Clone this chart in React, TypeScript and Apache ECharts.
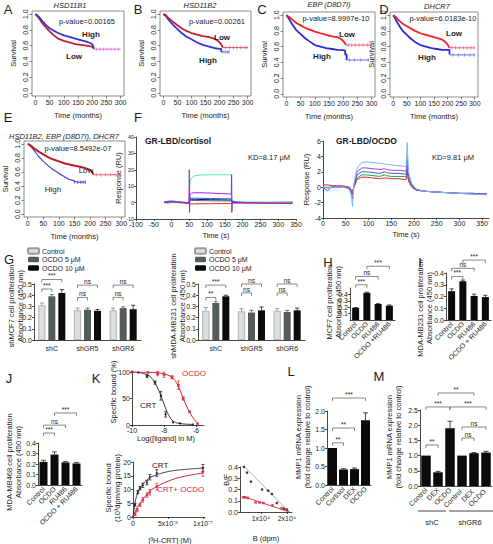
import React, { useEffect, useRef } from "react";
import * as echarts from "echarts";

const FONT = "'Liberation Sans', Arial, Helvetica, sans-serif";
const INK = "#1b1b1b";

// ---------- Kaplan-Meier curves (months, survival) ----------
const KM_XTICKS = [0, 50, 100, 150, 200, 250, 300];
const KM_YTICKS = [0, 0.2, 0.4, 0.6, 0.8, 1.0];

const A_highT = [0, 8, 16, 25, 35, 50, 65, 80, 100, 120, 140, 160, 180, 195, 202, 206];
const A_highS = [1.0, 0.98, 0.95, 0.91, 0.87, 0.82, 0.79, 0.76, 0.73, 0.71, 0.69, 0.67, 0.65, 0.63, 0.61, 0.56];
const A_lowT = [0, 8, 16, 25, 35, 50, 65, 80, 100, 120, 140, 160, 180, 195, 202, 206];
const A_lowS = [1.0, 0.97, 0.93, 0.88, 0.84, 0.78, 0.73, 0.69, 0.66, 0.64, 0.62, 0.61, 0.6, 0.59, 0.58, 0.56];
const A_tailT = [206, 300];
const A_tailS = [0.555, 0.555];
const A_cens = [215, 228, 240, 252, 266, 280, 292];

const B_highT = [0, 8, 16, 25, 35, 50, 65, 80, 100, 120, 140, 160, 180, 200, 206, 206];
const B_highS = [1.0, 0.98, 0.94, 0.9, 0.86, 0.81, 0.76, 0.72, 0.68, 0.64, 0.61, 0.59, 0.57, 0.56, 0.56, 0.52];
const B_hTailT = [206, 235];
const B_hTailS = [0.52, 0.52];
const B_hCens = [212, 220, 228, 234];
const B_lowT = [0, 8, 16, 25, 35, 50, 65, 80, 100, 120, 140, 160, 180, 195, 205, 212];
const B_lowS = [1.0, 0.99, 0.96, 0.93, 0.9, 0.86, 0.82, 0.79, 0.76, 0.74, 0.72, 0.71, 0.69, 0.66, 0.62, 0.575];
const B_tailT = [212, 300];
const B_tailS = [0.575, 0.575];
const B_cens = [222, 236, 250, 262, 276, 290, 298];

const C_lowT = [0, 8, 16, 25, 35, 50, 65, 80, 100, 120, 140, 160, 180, 195, 205, 210];
const C_lowS = [1.0, 0.98, 0.96, 0.93, 0.9, 0.87, 0.84, 0.82, 0.79, 0.77, 0.75, 0.73, 0.72, 0.69, 0.65, 0.62];
const C_tailT = [210, 300];
const C_tailS = [0.62, 0.62];
const C_cens = [218, 230, 242, 256, 270, 286, 298];
const C_highT = [0, 8, 16, 25, 35, 50, 65, 80, 100, 120, 140, 160, 180, 200, 207, 207, 212, 212];
const C_highS = [1.0, 0.96, 0.91, 0.86, 0.81, 0.76, 0.71, 0.67, 0.62, 0.6, 0.58, 0.57, 0.56, 0.555, 0.55, 0.5, 0.5, 0.43];
const C_hTailT = [212, 290];
const C_hTailS = [0.43, 0.43];
const C_hCens = [222, 240, 262, 288];

const D_lowT = [0, 8, 16, 25, 35, 50, 65, 80, 100, 120, 140, 160, 180, 195, 203, 207];
const D_lowS = [1.0, 0.98, 0.95, 0.92, 0.89, 0.86, 0.83, 0.8, 0.77, 0.75, 0.73, 0.71, 0.69, 0.65, 0.61, 0.585];
const D_tailT = [207, 300];
const D_tailS = [0.585, 0.585];
const D_cens = [216, 230, 244, 258, 272, 286, 298];
const D_highT = [0, 8, 16, 25, 35, 50, 65, 80, 100, 120, 140, 160, 180, 200, 207, 207];
const D_highS = [1.0, 0.95, 0.9, 0.85, 0.8, 0.75, 0.7, 0.66, 0.62, 0.6, 0.58, 0.57, 0.56, 0.56, 0.56, 0.5];
const D_hTailT = [207, 300];
const D_hTailS = [0.495, 0.495];
const D_hCens = [220, 240, 262, 282, 298];

const E_lowT = [0, 8, 16, 25, 35, 50, 65, 80, 100, 120, 140, 160, 180, 200, 207, 210];
const E_lowS = [1.0, 0.98, 0.95, 0.92, 0.89, 0.85, 0.81, 0.78, 0.75, 0.72, 0.7, 0.68, 0.66, 0.63, 0.6, 0.565];
const E_tailT = [210, 300];
const E_tailS = [0.56, 0.56];
const E_cens = [220, 235, 250, 265, 280, 295];
const E_highT = [0, 8, 16, 25, 35, 50, 65, 80, 100, 115, 130, 145, 155, 165, 185];
const E_highS = [1.0, 0.97, 0.93, 0.88, 0.82, 0.75, 0.69, 0.64, 0.58, 0.54, 0.5, 0.48, 0.46, 0.455, 0.455];
const E_hCens = [150, 160, 170, 178, 185];

// ---------- SPR sensorgrams ----------
const F1_t = [-20, -10, 0, 10, 20, 35, 49, 50, 50.5, 52, 56, 65, 80, 110, 140, 160, 168, 169, 169.5, 171, 176, 185, 210, 250, 300, 340];
const F1_green = [0.2, 0, 0.3, 0.5, 0.2, 0, 0, 4, 8, 12, 15, 16.3, 16.8, 17, 17, 17, 17, 17, 4, 1.5, 0.8, 0.6, 0.4, 0.3, 0.2, 0.1];
const F1_purple = [0, 0.2, 0.5, 0.5, 0.2, 0, 0, 20, -6, 5, 5.8, 6, 6, 5.8, 5.5, 5.3, 5.2, 17, -6, 1, 0.5, 0.3, 0, -0.2, -0.3, -0.3];
const F1_blue = [0.5, 0.8, 1, 0.8, 0.5, 0.2, 0, 1, 1.5, 2.5, 2.7, 2.7, 2.6, 2.5, 2.4, 2.3, 2.3, 2.2, 1, 0.4, 0.2, 0.1, 0, 0, 0, 0];
const F1_navy = [0.3, 0.5, 0.6, 0.5, 0.3, 0, 0, 0.8, 1, 1.8, 2, 2, 1.9, 1.8, 1.7, 1.6, 1.6, 1.5, 0.8, 0.3, 0.2, 0, 0, 0, 0.1, 0.2];
const F1_teal = [0, 0.2, 0.3, 0.2, 0, 0, 0, 0.5, 0.8, 1.2, 1.3, 1.3, 1.2, 1.1, 1, 1, 1, 1, 0.4, 0.2, 0.1, 0, 0, 0.1, 0.2, 0.2];
const F1_red = [0, -0.2, 0, 0.2, 0, -0.3, -0.5, -0.5, -0.6, -0.8, -0.8, -0.8, -0.7, -0.7, -0.6, -0.6, -0.6, -0.6, -0.4, -0.3, -0.3, -0.3, -0.3, -0.4, -0.5, -0.6];

const F2_t = [0, 10, 20, 30, 40, 50, 58, 62, 65, 68, 75, 85, 95, 110, 125, 135, 140, 150, 165, 180, 183, 185, 188, 195, 205, 220, 240, 270, 300, 330, 360];
const F2_lblue = [0, -0.1, 0, 0, 0, -0.1, -0.3, -1, -2.5, 0.5, 2.5, 3.2, 3.3, 3.2, 3.1, 3.0, 3.0, 2.9, 2.8, 2.7, 2.7, 5.8, 2, 0.5, -0.2, -0.5, -0.6, -0.7, -0.8, -0.9, -1];
const F2_purple = [0, -0.1, 0, 0, 0, 0, -0.2, -0.8, -1.5, 0.3, 2, 2.5, 2.5, 2.4, 2.3, 2.4, 2.3, 2.2, 2.2, 2.1, 2.1, 4, 1.5, 0.3, -0.3, -0.5, -0.6, -0.7, -0.8, -0.9, -0.9];
const F2_blue = [0, -0.5, 0.1, 0, 0, 0, -0.1, -0.5, -1.0, 0.2, 1.6, 2.0, 2.0, 1.9, 1.8, 2.0, 1.9, 1.8, 1.8, 1.7, 1.7, 3, 1.2, 0.2, -0.3, -0.5, -0.6, -0.7, -0.8, -0.8, -0.9];
const F2_green = [0, 0, 0, 0, 0, 0, -0.1, -0.4, -0.8, 0.1, 1.2, 1.6, 1.6, 1.5, 1.4, 1.6, 1.5, 1.4, 1.4, 1.4, 1.4, 2.5, 1, 0.1, -0.3, -0.5, -0.6, -0.7, -0.8, -0.8, -0.9];
const F2_red = [0.3, 0.3, 0.2, 0.2, 0.2, 0.1, 0, -0.3, -0.5, 0, 1.0, 1.3, 1.3, 1.2, 1.1, 1.2, 1.2, 1.1, 1.1, 1.0, 1.0, 2, 0.8, 0, -0.4, -0.5, -0.6, -0.7, -0.8, -0.8, -0.9];

// ---------- G: proliferation (shC, shGR5, shGR6) ----------
const G_cats = ["shC", "shGR5", "shGR6"];
const G_names = ["Control", "OCDO 5 μM", "OCDO 10 μM"];
const G1_ctrl = [0.31, 0.265, 0.265];
const G1_ctrlE = [0.02, 0.02, 0.02];
const G1_o5 = [0.39, 0.27, 0.285];
const G1_o5E = [0.015, 0.015, 0.012];
const G1_o10 = [0.42, 0.26, 0.275];
const G1_o10E = [0.03, 0.012, 0.035];
const G2_ctrl = [0.26, 0.255, 0.26];
const G2_ctrlE = [0.03, 0.025, 0.02];
const G2_o5 = [0.33, 0.245, 0.25];
const G2_o5E = [0.012, 0.02, 0.015];
const G2_o10 = [0.39, 0.265, 0.265];
const G2_o10E = [0.01, 0.03, 0.02];

// ---------- H, I, J ----------
const HIJ_catsH = ["Control", "OCDO", "RU486", "OCDO +RU486"];
const HIJ_cats = ["Control", "OCDO", "RU486", "OCDO + RU486"];
const H_vals = [0.19, 0.425, 0.25, 0.225];
const H_errs = [0.005, 0.01, 0.005, 0.01];
const I_vals = [0.245, 0.33, 0.205, 0.195];
const I_errs = [0.02, 0.01, 0.015, 0.015];
const J_vals = [0.22, 0.29, 0.215, 0.205];
const J_errs = [0.015, 0.025, 0.008, 0.01];

// ---------- K: binding ----------
const KT_crtX = [-10, -9.6, -9.06, -8.56, -8.2, -7.9, -7.44, -7.0, -6.2];
const KT_crtY = [100, 99, 92, 80, 55, 20, 5, 3, 1];
const KT_crtE = [0, 0, 2, 3, 8, 5, 0, 0, 0];
const KT_ocdoX = [-10, -9.0, -8.4, -8.0, -7.5, -7.1, -6.8, -6.4, -5.9];
const KT_ocdoY = [100, 99, 97, 95, 90, 75, 50, 25, 2];
const KT_ocdoE = [0, 0, 4, 5, 3, 8, 3, 0, 0];
const KT_crtFitX = [-10, -9.5, -9.0, -8.7, -8.4, -8.2, -8.0, -7.8, -7.5, -7.2, -6.8, -6.2];
const KT_crtFitY = [100, 99, 94, 86, 70, 56, 40, 24, 9, 4, 2, 1];
const KT_ocdoFitX = [-10, -9, -8.4, -8.0, -7.6, -7.3, -7.0, -6.8, -6.5, -6.2, -5.9];
const KT_ocdoFitY = [100, 99.5, 98.5, 96.5, 92, 84, 66, 50, 30, 14, 3];

const KB_crtX = [0, 3e-9, 7e-9, 1e-8, 1.4e-8, 2e-8, 2.4e-8, 3.4e-8, 1e-7];
const KB_crtY = [0, 4.5, 9, 10.5, 11.5, 12.5, 14.5, 16, 17.8];
const KB_crtE = [0, 0.5, 0.6, 0.6, 0.8, 0.8, 1, 1.2, 1.3];
const KB_crtFitX = [0, 2e-9, 5e-9, 1e-8, 2e-8, 3e-8, 5e-8, 7e-8, 1e-7];
const KB_crtFitY = [0, 3.5, 7.5, 10.5, 13.5, 15, 16.5, 17.2, 17.8];
const KB_mixX = [0, 3e-9, 6e-9, 1e-8, 1.4e-8, 2e-8, 2.4e-8, 3.4e-8, 1e-7];
const KB_mixY = [0, 1, 2.5, 4.4, 6.2, 8, 9, 11, 16.4];
const KB_mixE = [0, 0.5, 0.6, 0.6, 0.8, 0.8, 1, 1.2, 1.6];
const KB_mixFitX = [0, 2e-9, 5e-9, 1e-8, 2e-8, 3e-8, 5e-8, 7e-8, 1e-7];
const KB_mixFitY = [0, 1.2, 3, 5, 8.2, 10.5, 13, 14.6, 16];

const SC_blackB = [3500, 4700, 6200, 10500, 12800, 14300, 16200, 18900, 20000];
const SC_blackBF = [0.4, 0.35, 0.27, 0.2, 0.19, 0.16, 0.08, 0.03, 0.02];
const SC_redB = [3200, 4000, 5000, 8000, 9500, 11000, 14500, 18000, 20000];
const SC_redBF = [0.13, 0.13, 0.125, 0.085, 0.085, 0.08, 0.06, 0.035, 0.02];
const SC_blackFitB = [3000, 21000];
const SC_blackFitBF = [0.42, 0.0];
const SC_redFitB = [3000, 21000];
const SC_redFitBF = [0.14, 0.0];

// ---------- L, M: MMP1 expression ----------
const L_cats = ["Control", "Cortisol", "DEX", "OCDO"];
const L_vals = [1.0, 0.42, 0.43, 1.75];
const L_errs = [0, 0.02, 0.03, 0.2];
const M_cats = ["Control", "DEX", "OCDO", "Control ", "DEX ", "OCDO "];
const M_vals = [1.0, 0.45, 1.9, 1.0, 1.08, 1.1];
const M_errs = [0, 0.03, 0.23, 0, 0.02, 0.04];

type R = { l: number; t: number; w: number; h: number };
type Br = [number, number, number, number, number, string];

function zip(a: number[], b: number[]) {
  return a.map((v, i) => [v, b[i]]);
}

function buildOption() {
  const grid: any[] = [];
  const xAxis: any[] = [];
  const yAxis: any[] = [];
  const series: any[] = [];
  const graphic: any[] = [];

  const lbl = (size = 7, extra: any = {}) => ({ fontSize: size, fontFamily: FONT, color: INK, ...extra });
  const nameStyle = (size = 7.5) => ({ fontSize: size, fontFamily: FONT, color: INK });

  function addGrid(r: R, xa: any, ya: any, box = false) {
    const gi = grid.length;
    grid.push({
      left: r.l, top: r.t, width: r.w, height: r.h, show: box,
      borderColor: "#707070", borderWidth: box ? 0.8 : 0, backgroundColor: "transparent",
    });
    xAxis.push({ gridIndex: gi, splitLine: { show: false }, ...xa, axisLine: { onZero: false, ...(xa.axisLine || {}) } });
    yAxis.push({ gridIndex: gi, splitLine: { show: false }, ...ya, axisLine: { onZero: false, ...(ya.axisLine || {}) } });
    return gi;
  }

  function text(t: string, x: number, y: number, o: any = {}) {
    const align = o.align || "center";
    const va = o.va || "middle";
    graphic.push({
      type: "text", x, y, rotation: o.rot || 0, silent: true, z: 50,
      style: {
        text: t, fill: o.color || INK, fontFamily: FONT, fontSize: o.size || 7.5,
        fontStyle: o.italic ? "italic" : "normal", fontWeight: o.bold ? "bold" : "normal",
        align, textAlign: align, verticalAlign: va, textVerticalAlign: va,
        lineHeight: o.lh || undefined,
      },
    });
  }

  const line = (gi: number, data: any[], color: string, width = 1, extra: any = {}) =>
    series.push({
      type: "line", xAxisIndex: gi, yAxisIndex: gi, data, showSymbol: false, symbol: "none",
      lineStyle: { color, width }, silent: true, animation: false, ...extra,
    });

  // ---------- KM panels ----------
  function km(r: R, curves: { d: any[]; c: string; w?: number }[], cens: { t: number[]; y: number; c: string }[]) {
    const tick = { show: true, length: 2.5, lineStyle: { color: "#555", width: 0.7 } };
    const gi = addGrid(
      r,
      {
        type: "value", min: -12, max: 312, axisLine: { show: false },
        axisTick: { ...tick, customValues: KM_XTICKS },
        axisLabel: { ...lbl(7), margin: 3, customValues: KM_XTICKS },
        name: "Time (months)", nameLocation: "middle", nameGap: 15, nameTextStyle: nameStyle(7.5),
      },
      {
        type: "value", min: -0.04, max: 1.04, axisLine: { show: false },
        axisTick: { ...tick, customValues: KM_YTICKS },
        axisLabel: { ...lbl(7), margin: 3, rotate: 90, customValues: KM_YTICKS, formatter: (v: number) => v.toFixed(1) },
        name: "Survival", nameLocation: "middle", nameGap: 15, nameTextStyle: nameStyle(7.5),
      },
      true
    );
    curves.forEach((c) => line(gi, c.d, c.c, c.w ?? 1.8));
    cens.forEach((c) =>
      series.push({
        type: "scatter", xAxisIndex: gi, yAxisIndex: gi, data: c.t.map((t) => [t, c.y]),
        symbol: "rect", symbolSize: [0.8, 3.5], itemStyle: { color: c.c }, silent: true,
      })
    );
    return gi;
  }

  const RED1 = "#bf2230";
  const BLUE1 = "#3535d2";
  const RED2 = "#ee2228";
  const BLUE2 = "#2a2ad6";
  const PINK = "#d672d8";
  const LBLUE = "#6a6af0";

  km({ l: 32, t: 11, w: 92, h: 85 },
    [{ d: zip(A_lowT, A_lowS), c: RED1 }, { d: zip(A_highT, A_highS), c: BLUE1 }, { d: zip(A_tailT, A_tailS), c: PINK, w: 1 }],
    [{ t: A_cens, y: 0.555, c: PINK }]);
  km({ l: 160, t: 11, w: 91, h: 85 },
    [{ d: zip(B_highT, B_highS), c: BLUE1 }, { d: zip(B_lowT, B_lowS), c: RED1 }, { d: zip(B_tailT, B_tailS), c: "#e0506a", w: 1 }, { d: zip(B_hTailT, B_hTailS), c: LBLUE, w: 1 }],
    [{ t: B_cens, y: 0.575, c: "#e0506a" }, { t: B_hCens, y: 0.52, c: LBLUE }]);
  km({ l: 283, t: 12, w: 92, h: 85 },
    [{ d: zip(C_highT, C_highS), c: BLUE2 }, { d: zip(C_lowT, C_lowS), c: RED2 }, { d: zip(C_tailT, C_tailS), c: "#f05a78", w: 1 }, { d: zip(C_hTailT, C_hTailS), c: LBLUE, w: 1 }],
    [{ t: C_cens, y: 0.62, c: "#f05a78" }, { t: C_hCens, y: 0.43, c: LBLUE }]);
  km({ l: 390, t: 12, w: 88, h: 85 },
    [{ d: zip(D_highT, D_highS), c: BLUE2 }, { d: zip(D_lowT, D_lowS), c: RED2 }, { d: zip(D_tailT, D_tailS), c: "#f05a78", w: 1 }, { d: zip(D_hTailT, D_hTailS), c: LBLUE, w: 1 }],
    [{ t: D_cens, y: 0.585, c: "#f05a78" }, { t: D_hCens, y: 0.495, c: LBLUE }]);
  km({ l: 21, t: 141, w: 104, h: 76 },
    [{ d: zip(E_highT, E_highS), c: "#4444d8", w: 1.2 }, { d: zip(E_lowT, E_lowS), c: "#b81c24", w: 2 }, { d: zip(E_tailT, E_tailS), c: "#e05a78", w: 1 }],
    [{ t: E_cens, y: 0.56, c: "#e05a78" }, { t: E_hCens, y: 0.455, c: "#4444d8" }]);

  // KM annotations
  text("HSD11B1", 70, 5, { italic: true, size: 7.5 });
  text("HSD11B2", 200, 5, { italic: true, size: 7.5 });
  text("EBP (D8D7I)", 329, 4, { italic: true, size: 7.5 });
  text("DHCR7", 437, 6, { italic: true, size: 7.5 });
  text("HSD11B2, EBP (D8D7I), DHCR7", 64, 136, { italic: true, size: 7.5 });
  text("p-value=0.00165", 87, 21, { size: 7.5 });
  text("p-value=0.00261", 217, 21, { size: 7.5 });
  text("p-value=8.9997e-10", 336, 18, { size: 7.5 });
  text("p-value=6.0183e-10", 443, 18, { size: 7.5 });
  text("p-value=8.5492e-07", 78, 148, { size: 7.5 });
  text("High", 91, 34, { bold: true, size: 8 });
  text("Low", 74, 56, { bold: true, size: 8 });
  text("Low", 222, 37, { bold: true, size: 8 });
  text("High", 208, 60, { bold: true, size: 8 });
  text("Low", 347, 34, { bold: true, size: 8 });
  text("High", 322, 56, { bold: true, size: 8 });
  text("Low", 454, 33, { bold: true, size: 8 });
  text("High", 427, 57, { bold: true, size: 8 });
  text("Low", 86, 170, { size: 8 });
  text("High", 53, 189, { size: 8 });

  // ---------- F: SPR ----------
  const sprAxes = (xmin: number, xmax: number, ymin: number, ymax: number, yint: number, ySize: number, xCustom: number[]) => [
    {
      type: "value", min: xmin, max: xmax,
      axisLine: { show: true, lineStyle: { color: INK, width: 0.8 } },
      axisTick: { show: true, length: 2, lineStyle: { color: INK, width: 0.7 }, customValues: xCustom },
      axisLabel: { ...lbl(7), margin: 2, customValues: xCustom },
      name: "Time (s)", nameLocation: "middle", nameGap: 12, nameTextStyle: nameStyle(7.5),
    },
    {
      type: "value", min: ymin, max: ymax, interval: yint,
      axisLine: { show: true, lineStyle: { color: INK, width: 0.8 } },
      axisTick: { show: true, length: 2, lineStyle: { color: INK, width: 0.7 } },
      axisLabel: { ...lbl(ySize), margin: 2 },
      name: "Response (RU)", nameLocation: "middle", nameGap: 9, nameTextStyle: nameStyle(7.5),
    },
  ];
  const f1ax = sprAxes(-100, 350, -10, 40, 10, 5.5, [-100, -50, 0, 50, 100, 150, 200, 250, 300, 350]);
  const gF1 = addGrid({ l: 136, t: 137, w: 160, h: 82 }, f1ax[0], f1ax[1]);
  line(gF1, zip(F1_t, F1_red), "#e02424", 1);
  line(gF1, zip(F1_t, F1_teal), "#2a8060", 1);
  line(gF1, zip(F1_t, F1_navy), "#1c1c80", 1);
  line(gF1, zip(F1_t, F1_blue), "#3a55d0", 1);
  line(gF1, zip(F1_t, F1_green), "#5ee8a4", 1);
  line(gF1, zip(F1_t, F1_purple), "#a020ec", 1);

  const f2ax = sprAxes(0, 365, -4, 6, 2, 7, [0, 50, 100, 150, 200, 250, 300, 350]);
  const gF2 = addGrid({ l: 323, t: 141, w: 166, h: 77 }, f2ax[0], f2ax[1]);
  line(gF2, zip(F2_t, F2_red), "#e02828", 1);
  line(gF2, zip(F2_t, F2_green), "#30a048", 1);
  line(gF2, zip(F2_t, F2_blue), "#3860d8", 1);
  line(gF2, zip(F2_t, F2_purple), "#b040e0", 1);
  line(gF2, zip(F2_t, F2_lblue), "#72bcf2", 1);

  text("GR-LBD/cortisol", 145, 141, { bold: true, size: 8.5, align: "left" });
  text("KD=8.17 μM", 248, 157, { size: 7.5, align: "left" });
  text("GR-LBD/OCDO", 336, 141, { bold: true, size: 8.5, align: "left" });
  text("KD=9.81 μM", 432, 157, { size: 7.5, align: "left" });

  // ---------- bar panels ----------
  function bars(o: {
    r: R; cats: string[]; sers: { name: string; v: number[]; e: number[]; color: string; border?: string; ecolor?: string }[];
    max: number; step: number; dec: number; rot: number; bw: number; gap: number; br: Br[]; catMargin?: number;
  }) {
    const gi = addGrid(
      o.r,
      {
        type: "category", data: o.cats,
        axisLine: { show: true, lineStyle: { color: INK, width: 0.8 } },
        axisTick: { show: false },
        axisLabel: { ...lbl(7), interval: 0, rotate: o.rot, margin: o.catMargin ?? 3 },
      },
      {
        type: "value", min: 0, max: o.max, interval: o.step,
        axisLine: { show: true, lineStyle: { color: INK, width: 0.8 } },
        axisTick: { show: true, length: 2, lineStyle: { color: INK, width: 0.8 } },
        axisLabel: { ...lbl(7), margin: 2, formatter: (v: number) => v.toFixed(o.dec) },
      }
    );
    const n = o.sers.length;
    const offs = o.sers.map((_, i) => (i - (n - 1) / 2) * (o.bw + o.gap));
    o.sers.forEach((s) =>
      series.push({
        type: "bar", name: s.name, xAxisIndex: gi, yAxisIndex: gi, data: s.v, barWidth: o.bw,
        barGap: `${(o.gap / o.bw) * 100}%`, silent: true,
        itemStyle: { color: s.color, borderColor: s.border || s.color, borderWidth: s.border ? 0.7 : 0 },
      })
    );
    const ed: number[][] = [];
    o.sers.forEach((s, si) => s.v.forEach((v, ci) => { if (s.e[ci] > 0) ed.push([ci, v, s.e[ci], si]); }));
    const ecol = o.sers.map((s) => s.ecolor || INK);
    series.push({
      type: "custom", xAxisIndex: gi, yAxisIndex: gi, silent: true, clip: false, z: 3,
      encode: { x: 0, y: 1 }, data: ed,
      renderItem: (_p: any, api: any) => {
        const ci = api.value(0), v = api.value(1), e = api.value(2), si = api.value(3);
        const a = api.coord([ci, v]);
        const b = api.coord([ci, v + e]);
        const x = a[0] + offs[si];
        const cap = Math.min(o.bw * 0.3, 2.5);
        const st = { stroke: ecol[si], lineWidth: 0.8 };
        return {
          type: "group",
          children: [
            { type: "line", shape: { x1: x, y1: a[1], x2: x, y2: b[1] }, style: st },
            { type: "line", shape: { x1: x - cap, y1: b[1], x2: x + cap, y2: b[1] }, style: st },
          ],
        };
      },
    });
    series.push({
      type: "custom", xAxisIndex: gi, yAxisIndex: gi, silent: true, clip: false, z: 4,
      encode: { x: 0, y: 4 }, data: o.br.map((b) => [b[0], b[1], b[2], b[3], b[4]]),
      renderItem: (p: any, api: any) => {
        const b = o.br[p.dataIndex];
        const p1 = api.coord([b[0], b[4]]);
        const p2 = api.coord([b[2], b[4]]);
        const x1 = p1[0] + offs[b[1]];
        const x2 = p2[0] + offs[b[3]];
        const y = p1[1];
        return {
          type: "group",
          children: [
            { type: "polyline", shape: { points: [[x1, y + 3], [x1, y], [x2, y], [x2, y + 3]] }, style: { stroke: "#555", lineWidth: 0.7, fill: null } },
            {
              type: "text", x: (x1 + x2) / 2, y: y - 0.3,
              style: { text: b[5], fontSize: 6.5, fontFamily: FONT, fill: INK, align: "center", textAlign: "center", verticalAlign: "bottom", textVerticalAlign: "bottom" },
            },
          ],
        };
      },
    });
    return gi;
  }

  const GCOL = [
    { color: "#dcdfdf", border: "#9a9a9a", ecolor: "#888" },
    { color: "#555c5c", ecolor: "#555" },
    { color: "#0b0b0b" },
  ];
  const mkG = (vals: number[][], errs: number[][]) => G_names.map((nm, i) => ({ name: nm, v: vals[i], e: errs[i], ...GCOL[i] }));

  bars({
    r: { l: 34, t: 284, w: 107, h: 56 }, cats: G_cats, sers: mkG([G1_ctrl, G1_o5, G1_o10], [G1_ctrlE, G1_o5E, G1_o10E]),
    max: 0.5, step: 0.1, dec: 1, rot: 0, bw: 7, gap: 3, catMargin: 5,
    br: [[0, 0, 0, 1, 0.455, "***"], [0, 0, 0, 2, 0.54, "***"], [1, 0, 1, 1, 0.38, "ns"], [1, 0, 1, 2, 0.49, "ns"], [2, 0, 2, 1, 0.38, "ns"], [2, 0, 2, 2, 0.49, "ns"]],
  });
  bars({
    r: { l: 198, t: 284, w: 107, h: 56 }, cats: G_cats, sers: mkG([G2_ctrl, G2_o5, G2_o10], [G2_ctrlE, G2_o5E, G2_o10E]),
    max: 0.5, step: 0.1, dec: 1, rot: 0, bw: 7, gap: 3, catMargin: 5,
    br: [[0, 0, 0, 1, 0.38, "**"], [0, 0, 0, 2, 0.49, "***"], [1, 0, 1, 1, 0.42, "ns"], [1, 0, 1, 2, 0.5, "ns"], [2, 0, 2, 1, 0.42, "ns"], [2, 0, 2, 2, 0.5, "ns"]],
  });

  const blk = (nm: string, v: number[], e: number[]) => [{ name: nm, v, e, color: "#0b0b0b" }];
  bars({
    r: { l: 350, t: 288, w: 45, h: 32 }, cats: HIJ_catsH, sers: blk("H", H_vals, H_errs),
    max: 0.5, step: 0.1, dec: 1, rot: 45, bw: 7, gap: 0,
    br: [[0, 0, 1, 0, 0.55, "***"], [0, 0, 2, 0, 0.68, "ns"], [1, 0, 3, 0, 0.84, "***"]],
  });
  bars({
    r: { l: 446, t: 273, w: 45, h: 47 }, cats: HIJ_cats, sers: blk("I", I_vals, I_errs),
    max: 0.4, step: 0.1, dec: 1, rot: 45, bw: 7, gap: 0,
    br: [[0, 0, 1, 0, 0.37, "***"], [0, 0, 2, 0, 0.44, "ns"], [1, 0, 3, 0, 0.51, "***"]],
  });
  bars({
    r: { l: 38, t: 443, w: 44, h: 42 }, cats: HIJ_cats, sers: blk("J", J_vals, J_errs),
    max: 0.4, step: 0.1, dec: 1, rot: 45, bw: 8, gap: 0,
    br: [[0, 0, 1, 0, 0.495, "***"], [0, 0, 2, 0, 0.57, "ns"], [1, 0, 3, 0, 0.686, "***"]],
  });
  bars({
    r: { l: 327, t: 411, w: 44, h: 74 }, cats: L_cats, sers: blk("L", L_vals, L_errs),
    max: 2.0, step: 0.5, dec: 1, rot: 45, bw: 9, gap: 0,
    br: [[0, 0, 1, 0, 1.14, "**"], [0, 0, 2, 0, 1.54, "**"], [0, 0, 3, 0, 2.35, "***"]],
  });
  bars({
    r: { l: 420, t: 410, w: 72, h: 76 }, cats: M_cats, sers: blk("M", M_vals, M_errs),
    max: 2.5, step: 0.5, dec: 1, rot: 45, bw: 9.5, gap: 0,
    br: [[0, 0, 1, 0, 1.35, "**"], [0, 0, 2, 0, 2.6, "***"], [2, 0, 5, 0, 2.6, "***"], [3, 0, 4, 0, 1.58, "ns"], [3, 0, 5, 0, 1.94, "ns"], [1, 0, 4, 0, 3.06, "**"]],
  });

  // bar y-axis titles
  text("shMCF7 cell proliferation\nAbsorbance (450 nm)", 16, 306, { rot: Math.PI / 2, lh: 8.5 });
  text("shMDA-MB231 cell proliferation\nAbsorbance (450 nm)", 178, 306, { rot: Math.PI / 2, lh: 8.5 });
  text("MCF7 cell proliferation\nAbsorbance (450 nm)", 334, 302, { rot: Math.PI / 2, lh: 8.5 });
  text("MDA-MB231 cell proliferation\nAbsorbance (450 nm)", 425, 308, { rot: Math.PI / 2, lh: 8.5 });
  text("MDA-MB468 cell proliferation\nAbsorbance (450 nm)", 14, 462, { rot: Math.PI / 2, lh: 8.5 });
  text("MMP1 mRNA expression\n(fold change relative to control)", 303, 437, { rot: Math.PI / 2, lh: 8.5 });
  text("MMP1 mRNA expression\n(fold change relative to control)", 394, 437, { rot: Math.PI / 2, lh: 8.5 });

  // M group labels
  graphic.push({ type: "line", shape: { x1: 418, y1: 511, x2: 446, y2: 511 }, style: { stroke: INK, lineWidth: 0.8 }, silent: true });
  graphic.push({ type: "line", shape: { x1: 449, y1: 511, x2: 493, y2: 511 }, style: { stroke: INK, lineWidth: 0.8 }, silent: true });
  text("shC", 432, 522, { size: 7.5 });
  text("shGR6", 470, 522, { size: 7.5 });

  // ---------- K ----------
  const RK = "#d02a3a";
  const axl = { show: true, lineStyle: { color: INK, width: 0.8 } };
  const axt = { show: true, length: 2, lineStyle: { color: INK, width: 0.8 } };
  const gKT = addGrid(
    { l: 132, t: 372, w: 72, h: 53 },
    { type: "value", min: -10, max: -5.5, axisLine: axl, axisTick: { ...axt, customValues: [-10, -8, -6] }, axisLabel: { ...lbl(7), margin: 2, customValues: [-10, -8, -6] } },
    { type: "value", min: 0, max: 100, interval: 50, axisLine: axl, axisTick: axt, axisLabel: { ...lbl(7), margin: 2 } }
  );
  line(gKT, zip(KT_crtFitX, KT_crtFitY), "#222", 0.9, { smooth: 0.3 });
  line(gKT, zip(KT_ocdoFitX, KT_ocdoFitY), RK, 1, { smooth: 0.3 });

  function pts(gi: number, xs: number[], ys: number[], es: number[], color: string, size = 2.6, sym = "circle") {
    series.push({
      type: "scatter", xAxisIndex: gi, yAxisIndex: gi, data: zip(xs, ys), symbol: sym, symbolSize: size,
      itemStyle: { color }, silent: true, z: 5,
    });
    series.push({
      type: "custom", xAxisIndex: gi, yAxisIndex: gi, silent: true, clip: false, z: 4,
      encode: { x: 0, y: 1 }, data: xs.map((x, i) => [x, ys[i], es[i]]).filter((d) => d[2] > 0),
      renderItem: (_p: any, api: any) => {
        const x = api.value(0), y = api.value(1), e = api.value(2);
        const a = api.coord([x, y - e]);
        const b = api.coord([x, y + e]);
        const st = { stroke: color, lineWidth: 0.7 };
        return {
          type: "group",
          children: [
            { type: "line", shape: { x1: a[0], y1: a[1], x2: b[0], y2: b[1] }, style: st },
            { type: "line", shape: { x1: a[0] - 1.5, y1: a[1], x2: a[0] + 1.5, y2: a[1] }, style: st },
            { type: "line", shape: { x1: b[0] - 1.5, y1: b[1], x2: b[0] + 1.5, y2: b[1] }, style: st },
          ],
        };
      },
    });
  }
  pts(gKT, KT_crtX, KT_crtY, KT_crtE, "#111", 2.4, "circle");
  pts(gKT, KT_ocdoX, KT_ocdoY, KT_ocdoE, RK, 2.8, "rect");

  const kbl = (v: number) => (v < 1e-9 ? "0" : v < 7e-8 ? "5x10⁻⁸" : "1x10⁻⁷");
  const gKB = addGrid(
    { l: 133, t: 462, w: 72, h: 55 },
    { type: "value", min: 0, max: 1.03e-7, axisLine: axl, axisTick: { ...axt, customValues: [0, 5e-8, 1e-7] }, axisLabel: { ...lbl(7), margin: 3, customValues: [0, 5e-8, 1e-7], formatter: kbl } },
    { type: "value", min: 0, max: 20, interval: 5, axisLine: axl, axisTick: axt, axisLabel: { ...lbl(7), margin: 2 } }
  );
  line(gKB, zip(KB_crtFitX, KB_crtFitY), "#333", 0.9, { smooth: 0.4 });
  line(gKB, zip(KB_mixFitX, KB_mixFitY), RK, 1, { smooth: 0.4 });
  pts(gKB, KB_crtX, KB_crtY, KB_crtE, "#111", 2.2, "circle");
  pts(gKB, KB_mixX, KB_mixY, KB_mixE, RK, 2.4, "rect");

  const sbl = (v: number) => (v < 15000 ? "1x10⁴" : "2x10⁴");
  const gSC = addGrid(
    { l: 240, t: 467, w: 52, h: 45 },
    { type: "value", min: 2000, max: 22000, axisLine: axl, axisTick: { ...axt, customValues: [10000, 20000] }, axisLabel: { ...lbl(7), margin: 3, customValues: [10000, 20000], formatter: sbl } },
    { type: "value", min: 0, max: 0.4, interval: 0.1, axisLine: axl, axisTick: axt, axisLabel: { ...lbl(7), margin: 2, formatter: (v: number) => v.toFixed(1) } }
  );
  line(gSC, zip(SC_blackFitB, SC_blackFitBF), "#999", 0.8);
  line(gSC, zip(SC_redFitB, SC_redFitBF), RK, 0.9);
  pts(gSC, SC_blackB, SC_blackBF, SC_blackB.map(() => 0), "#111", 2.6, "circle");
  pts(gSC, SC_redB, SC_redBF, SC_redB.map(() => 0), RK, 2.6, "rect");

  text("Specific bound (%)", 113, 392, { rot: Math.PI / 2 });
  text("Log([ligand] in M)", 166, 438);
  text("OCDO", 182, 373, { color: RK, size: 8, align: "left" });
  text("CRT", 140, 405, { size: 8, align: "left" });
  text("Specific bound\n(10³dpm/mg protein)", 113, 488, { rot: Math.PI / 2, lh: 8.5 });
  text("[³H-CRT] (M)", 170, 540);
  text("CRT", 152, 465, { size: 8, align: "left" });
  text("CRT+ OCDO", 157, 489, { size: 8, align: "left", color: RK });
  text("B/F", 226, 480, { rot: Math.PI / 2 });
  text("B (dpm)", 266, 538);

  // ---------- panel letters ----------
  const letters: [string, number, number][] = [
    ["A", 8, 9], ["B", 138, 9], ["C", 262, 9], ["D", 384, 9], ["E", 8, 117], ["F", 138, 117],
    ["G", 9, 259], ["H", 328, 262], ["I", 420, 262], ["J", 9, 378], ["K", 96, 378], ["L", 291, 371], ["M", 379, 376],
  ];
  letters.forEach(([t, x, y]) => text(t, x, y, { size: 13 }));

  const legendBase = {
    orient: "vertical", itemWidth: 11, itemHeight: 5.5, itemGap: 0.5, selectedMode: false,
    textStyle: { fontSize: 7, lineHeight: 8, fontFamily: FONT, color: INK, padding: [0, 0, 0, -2] },
    data: G_names, padding: 0,
  };

  return {
    animation: false,
    backgroundColor: "#ffffff",
    grid, xAxis, yAxis, series, graphic,
    legend: [
      { ...legendBase, left: 27, top: 247 },
      { ...legendBase, left: 194, top: 247 },
    ],
  };
}

export default function App() {
  const ref = useRef<HTMLDivElement>(null);
  useEffect(() => {
    if (!ref.current) return;
    const chart = echarts.init(ref.current, null, { renderer: "svg" });
    chart.setOption(buildOption() as any);
    return () => chart.dispose();
  }, []);
  return (
    <div
      ref={ref}
      style={{ position: "absolute", left: 0, top: 0, width: 493, height: 544, background: "#fff" }}
    />
  );
}
